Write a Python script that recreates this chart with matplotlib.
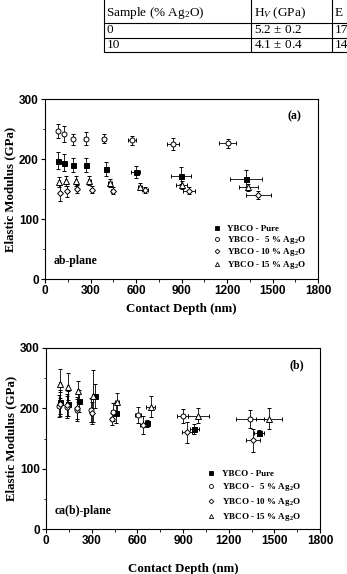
import numpy as np
import matplotlib
matplotlib.use('Agg')
import matplotlib.pyplot as plt
from matplotlib.lines import Line2D

plt.rcParams.update({'font.family': 'Liberation Serif',
                     'mathtext.default': 'regular',
                     'mathtext.fontset': 'custom',
                     'mathtext.it': 'Liberation Serif:italic',
                     'axes.linewidth': 0.8,
                     'xtick.major.width': 0.8,
                     'ytick.major.width': 0.8})

# ---- data: panel (a) ab-plane ----
a_pure_x = [84, 123, 183, 270, 402, 598, 897, 1325]
a_pure_y = [197, 194, 190, 190, 183, 178, 172, 167]
a_pure_xe = [4, 5, 6, 8, 12, 30, 66, 105]
a_pure_ye = [14, 14, 11, 11, 12, 10, 14, 14]

a_ag5_x = [88, 125, 183, 268, 391, 576, 844, 1205]
a_ag5_y = [247, 242, 233, 234, 234, 231, 225, 226]
a_ag5_xe = [4, 5, 6, 8, 12, 27, 37, 55]
a_ag5_ye = [12, 13, 9, 11, 7, 8, 10, 7]

a_ag10_x = [99, 147, 213, 308, 446, 659, 951, 1406]
a_ag10_y = [143, 146, 150, 149, 147, 149, 147, 140]
a_ag10_xe = [4, 5, 6, 8, 12, 18, 40, 82]
a_ag10_ye = [13, 9, 6, 6, 6, 5, 6, 6]

a_ag15_x = [94, 136, 204, 292, 429, 626, 901, 1340]
a_ag15_y = [162, 163, 163, 164, 160, 154, 157, 153]
a_ag15_xe = [4, 5, 6, 8, 12, 15, 35, 63]
a_ag15_ye = [8, 8, 8, 7, 6, 6, 7, 6]

# ---- data: panel (b) ca(b)-plane ----
b_pure_x = [92, 146, 217, 320, 460, 661, 974, 1401]
b_pure_y = [211, 208, 212, 221, 193, 175, 166, 159]
b_pure_xe = [4, 5, 6, 8, 12, 25, 30, 33]
b_pure_ye = [20, 20, 18, 20, 18, 6, 8, 5]

b_ag5_x = [88, 140, 201, 294, 442, 606, 898, 1340]
b_ag5_y = [204, 202, 197, 197, 194, 189, 187, 183]
b_ag5_xe = [4, 5, 6, 8, 12, 20, 38, 90]
b_ag5_ye = [18, 18, 18, 20, 15, 14, 12, 15]

b_ag10_x = [92, 140, 205, 300, 431, 635, 924, 1362]
b_ag10_y = [207, 205, 200, 192, 182, 172, 160, 147]
b_ag10_xe = [4, 5, 6, 8, 10, 15, 33, 46]
b_ag10_ye = [20, 18, 18, 18, 10, 15, 17, 19]

b_ag15_x = [92, 142, 212, 312, 468, 688, 1001, 1467]
b_ag15_y = [241, 236, 228, 221, 211, 203, 188, 183]
b_ag15_xe = [4, 5, 6, 8, 12, 30, 70, 85]
b_ag15_ye = [24, 23, 17, 43, 15, 18, 12, 18]

labels = ['YBCO - Pure', 'YBCO -   5 % Ag$_2$O',
          'YBCO - 10 % Ag$_2$O', 'YBCO - 15 % Ag$_2$O']
markers = ['s', 'o', 'D', '^']
fills = ['k', 'white', 'white', 'white']
msizes = [3.6, 3.6, 3.0, 3.8]

# table values
tab_head = ['Sample (% Ag$_2$O)', 'H$_\\mathit{V}$ (GPa)', 'E']
tab_rows = [['0', '5.2 $\\pm$ 0.2', '17'],
            ['10', '4.1 $\\pm$ 0.4', '14']]

fig = plt.figure(figsize=(3.47, 5.74), dpi=100)

# ---- table fragment at top ----
W, H = 347.0, 574.0
col_x = [104, 251, 332]
row_lines = [22.5, 37.5, 52]
for cx in col_x:
    fig.add_artist(Line2D([cx / W, cx / W], [1, 1 - 52 / H], color='k', lw=0.8))
for ry in row_lines:
    fig.add_artist(Line2D([104 / W, 1], [1 - ry / H, 1 - ry / H], color='k', lw=0.8))
rows_y = [13, 30, 45]
for j, txt in enumerate(tab_head):
    fig.text((col_x[j] + 2.5) / W, 1 - rows_y[0] / H, txt, fontsize=9.5,
             va='center', ha='left')
for i, row in enumerate(tab_rows):
    for j, txt in enumerate(row):
        fig.text((col_x[j] + 2.5) / W, 1 - rows_y[i + 1] / H, txt, fontsize=9.5,
                 va='center', ha='left')


def panel(ax, data, tag, plane, leg_anchor, leg_space):
    for k, (x, y, xe, ye) in enumerate(data):
        ax.errorbar(x, y, xerr=xe, yerr=ye, fmt=markers[k], ms=msizes[k],
                    mfc=fills[k], mec='k', mew=0.7, ecolor='k', elinewidth=0.6,
                    capsize=1.6, capthick=0.6, zorder=3)
    ax.set_xlim(0, 1800)
    ax.set_ylim(0, 300)
    ax.set_xticks(np.arange(0, 1801, 300))
    ax.set_xticks(np.arange(150, 1800, 300), minor=True)
    ax.set_yticks([0, 100, 200, 300])
    ax.set_yticks([50, 150, 250], minor=True)
    ax.tick_params(which='major', length=3, direction='out', pad=1.5)
    ax.tick_params(which='minor', length=1.8, direction='out')
    for lab in ax.get_xticklabels() + ax.get_yticklabels():
        lab.set_fontfamily('Liberation Sans')
        lab.set_fontweight('bold')
        lab.set_fontsize(8.5)
    ax.set_xlabel('Contact Depth (nm)', fontsize=9.3, fontweight='bold', labelpad=4)
    ax.set_ylabel('Elastic Modulus (GPa)', fontsize=9.3, fontweight='bold', labelpad=2)
    ax.text(0.915, 0.905, tag, transform=ax.transAxes, fontsize=8.5,
            fontweight='bold', ha='center', va='center')
    ax.text(0.03, 0.1, plane, transform=ax.transAxes, fontsize=8.5,
            fontweight='bold', ha='left', va='center')
    handles = [Line2D([], [], ls='none', marker=markers[k], ms=msizes[k] * 0.8,
                      mfc=fills[k], mec='k', mew=0.6) for k in range(4)]
    leg = ax.legend(handles, labels, loc='lower left', bbox_to_anchor=leg_anchor,
                    frameon=False, fontsize=6.5, handlelength=0.8,
                    handletextpad=0.8, labelspacing=leg_space, borderpad=0,
                    borderaxespad=0)
    for t in leg.get_texts():
        t.set_fontweight('bold')


ax1 = fig.add_axes([45 / W, 1 - 279 / H, 273 / W, 180 / H])
panel(ax1,
      [(a_pure_x, a_pure_y, a_pure_xe, a_pure_ye),
       (a_ag5_x, a_ag5_y, a_ag5_xe, a_ag5_ye),
       (a_ag10_x, a_ag10_y, a_ag10_xe, a_ag10_ye),
       (a_ag15_x, a_ag15_y, a_ag15_xe, a_ag15_ye)],
      '(a)', 'ab-plane', (0.615, 0.045), 0.06)

ax2 = fig.add_axes([46 / W, 1 - 529 / H, 274 / W, 181 / H])
panel(ax2,
      [(b_pure_x, b_pure_y, b_pure_xe, b_pure_ye),
       (b_ag5_x, b_ag5_y, b_ag5_xe, b_ag5_ye),
       (b_ag10_x, b_ag10_y, b_ag10_xe, b_ag10_ye),
       (b_ag15_x, b_ag15_y, b_ag15_xe, b_ag15_ye)],
      '(b)', 'ca(b)-plane', (0.59, 0.035), 0.32)
ax2.xaxis.labelpad = 11

plt.savefig('out.png', dpi=100)
